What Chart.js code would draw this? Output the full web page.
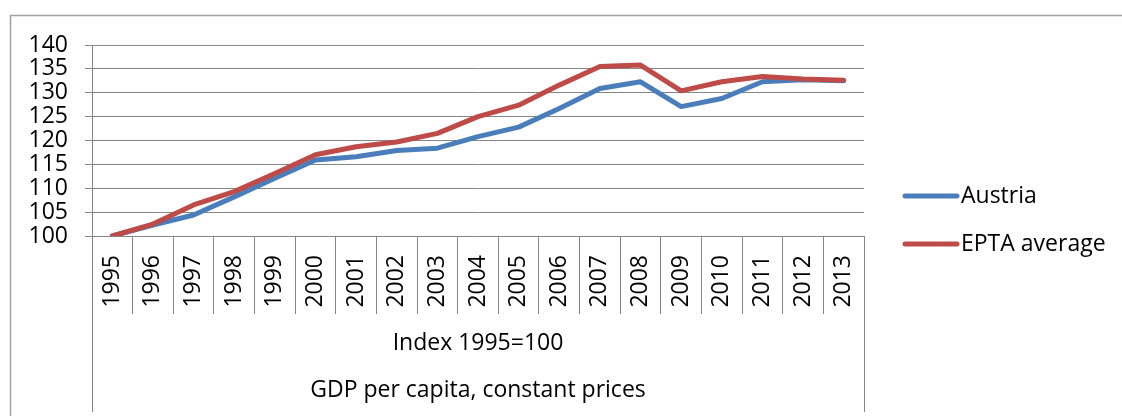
<!DOCTYPE html>
<html lang="en">
<head>
  <meta charset="UTF-8" />
  <title>GDP per capita, constant prices</title>
  <script src="https://cdn.jsdelivr.net/npm/chart.js"></script>
  <style>
    body {
      margin: 0;
      background: #ffffff;
    }
    #wrap {
      width: 1122px;
      height: 416px;
      position: relative;
    }
  </style>
</head>
<body>
  <div id="wrap"><canvas id="grafico"></canvas></div>

  <script>
    // --- data ---
    const years = ["1995", "1996", "1997", "1998", "1999", "2000", "2001", "2002", "2003", "2004",
                   "2005", "2006", "2007", "2008", "2009", "2010", "2011", "2012", "2013"];
    const austria = [100, 102.3, 104.4, 108.2, 112.1, 115.9, 116.6, 117.9, 118.4, 120.8,
                     122.8, 126.7, 130.9, 132.3, 127.1, 128.8, 132.3, 132.7, 132.5];
    const eptaAverage = [100, 102.5, 106.5, 109.3, 113.1, 117.0, 118.7, 119.7, 121.5, 125.0,
                         127.4, 131.6, 135.5, 135.8, 130.4, 132.3, 133.4, 132.9, 132.6];
    const seriesNames = ["Austria", "EPTA average"];
    const groupLabels = ["Index 1995=100", "GDP per capita, constant prices"];
    const yTicks = { min: 100, max: 140, step: 5 };

    const FONT = "'Open Sans', sans-serif";
    const SIZE = 23;
    const gridColor = "#868686";

    // frame, extra category-level lines, group labels and legend
    const extras = {
      id: "extras",
      beforeDraw(chart) {
        const c = chart.ctx;
        c.save();
        c.strokeStyle = "#a0a0a0";
        c.lineWidth = 1.5;
        c.beginPath();
        c.moveTo(10.5, 420);
        c.lineTo(10.5, 15.5);
        c.lineTo(1125, 15.5);
        c.stroke();
        c.restore();
      },
      afterDraw(chart) {
        const c = chart.ctx;
        const x = chart.scales.x;
        const area = chart.chartArea;
        c.save();
        // outer group separators
        c.strokeStyle = gridColor;
        c.lineWidth = 1;
        [x.left, x.right].forEach(px => {
          c.beginPath();
          c.moveTo(Math.round(px) + 0.5, area.bottom);
          c.lineTo(Math.round(px) + 0.5, 412);
          c.stroke();
        });
        // group labels
        c.fillStyle = "#000";
        c.font = SIZE + "px " + FONT;
        c.textAlign = "center";
        c.textBaseline = "middle";
        const mid = (x.left + x.right) / 2;
        c.fillText(groupLabels[0], mid, 343);
        c.fillText(groupLabels[1], mid, 390);
        // legend
        const rows = [196, 244];
        chart.data.datasets.forEach((ds, i) => {
          c.strokeStyle = ds.borderColor;
          c.lineWidth = 5;
          c.lineCap = "round";
          c.beginPath();
          c.moveTo(905, rows[i]);
          c.lineTo(957, rows[i]);
          c.stroke();
          c.textAlign = "left";
          c.fillText(ds.label, 961, rows[i]);
        });
        c.restore();
      }
    };

    const ctx = document.getElementById("grafico").getContext("2d");
    new Chart(ctx, {
      type: "line",
      data: {
        labels: years,
        datasets: [
          {
            label: seriesNames[0],
            data: austria,
            borderColor: "#4a7ebb",
            borderWidth: 5,
            pointRadius: 0,
            tension: 0,
            borderJoinStyle: "round",
            borderCapStyle: "round",
            order: 1
          },
          {
            label: seriesNames[1],
            data: eptaAverage,
            borderColor: "#be4b48",
            borderWidth: 5,
            pointRadius: 0,
            tension: 0,
            borderJoinStyle: "round",
            borderCapStyle: "round",
            order: 0
          }
        ]
      },
      options: {
        responsive: true,
        maintainAspectRatio: false,
        animation: false,
        layout: { padding: { top: 45, right: 258, left: 0, bottom: 0 } },
        plugins: {
          legend: { display: false },
          tooltip: { enabled: false }
        },
        scales: {
          x: {
            offset: true,
            afterFit(scale) { scale.height = 180; },
            grid: {
              offset: true,
              drawOnChartArea: false,
              tickLength: 78,
              color: gridColor
            },
            border: { color: gridColor },
            ticks: {
              autoSkip: false,
              minRotation: 90,
              maxRotation: 90,
              padding: -59,
              color: "#000",
              font: { family: FONT, size: SIZE }
            }
          },
          y: {
            min: yTicks.min,
            max: yTicks.max,
            afterFit(scale) { scale.width = 92; },
            grid: { color: gridColor, tickLength: 7 },
            border: { color: gridColor },
            ticks: {
              stepSize: yTicks.step,
              autoSkip: false,
              padding: 17,
              color: "#000",
              font: { family: FONT, size: SIZE }
            }
          }
        }
      },
      plugins: [extras]
    });
  </script>
</body>
</html>
